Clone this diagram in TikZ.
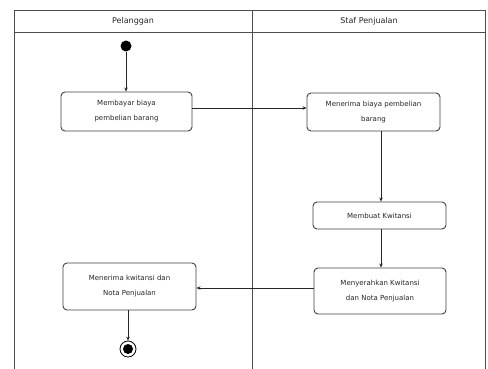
\documentclass[tikz,border=0pt]{standalone}
\usepackage{fontspec}
\setmainfont{DejaVu Sans}
\usetikzlibrary{arrows.meta}
\begin{document}
\begin{tikzpicture}[x=1pt,y=-1pt,
  lane/.style={draw=black!70,line width=0.9pt},
  act/.style={draw=black!75,line width=0.9pt,rounded corners=4pt,fill=white,
    align=center,font=\fontsize{7}{15}\selectfont,text=black!85,inner sep=0pt},
  flow/.style={draw=black!85,line width=0.8pt,-{Stealth[length=4pt,width=3.5pt]}},
  hdr/.style={font=\fontsize{8}{9}\selectfont,text=black!85}]
\useasboundingbox (0,0) rectangle (488,369);
% swimlane frame
\draw[lane] (14,369) -- (14,10) -- (485,10) -- (485,369);
\draw[lane] (14,32) -- (485,32);
\draw[lane] (252,10) -- (252,369);
\node[hdr] (h1) at (133,21) {Pelanggan};
\node[hdr] (h2) at (369,21) {Staf Penjualan};
% start / end
\node[circle,fill=black,inner sep=0pt,minimum size=11pt] (start) at (126,46) {};
\node[circle,draw=black,line width=0.8pt,inner sep=0pt,minimum size=16pt] (stop) at (128,349) {};
\node[circle,fill=black,inner sep=0pt,minimum size=10pt] (stopin) at (128,349) {};
% activities
\node[act,minimum width=131pt,minimum height=39pt] (a1) at (126.5,111.5) {Membayar biaya\\pembelian barang};
\node[act,minimum width=133pt,minimum height=38pt] (a2) at (373.5,112) {Menerima biaya pembelian\\barang};
\node[act,minimum width=133pt,minimum height=27pt] (a3) at (379.5,215.5) {Membuat Kwitansi};
\node[act,minimum width=132pt,minimum height=46pt] (a4) at (380,291) {Menyerahkan Kwitansi\\dan Nota Penjualan};
\node[act,minimum width=133pt,minimum height=47pt] (a5) at (129.5,286.5) {Menerima kwitansi dan\\Nota Penjualan};
% flows
\draw[flow] (start) -- (a1.north -| start);
\draw[flow] (a1.east |- 0,108) -- (a2.west |- 0,108);
\draw[flow] (a2.south -| 381,0) -- (a3.north -| 381,0);
\draw[flow] (a3.south -| 381,0) -- (a4.north -| 381,0);
\draw[flow] (a4.west |- 0,288) -- (a5.east |- 0,288);
\draw[flow] (a5.south -| stop) -- (stop);
\end{tikzpicture}
\end{document}
